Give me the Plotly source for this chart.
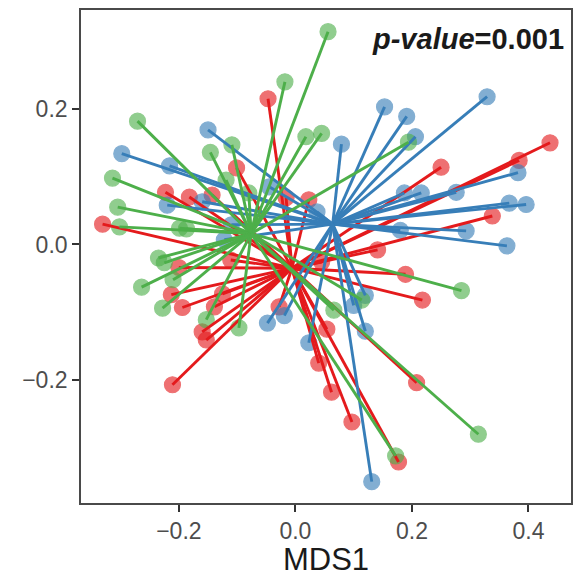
import plotly.graph_objects as go

# Data values (MDS1, MDS2)
red_x = [-0.047, -0.101, -0.223, -0.182, -0.143, -0.331, 0.250, 0.384, 0.437, 0.338, 0.141, 0.189, 0.218,
         -0.016, 0.023, -0.200, -0.111, -0.213, -0.194, -0.125, -0.139, -0.160, -0.153, -0.211,
         -0.028, 0.054, 0.040, 0.062, 0.097, 0.208, 0.177, 0.045]
red_y = [0.215, 0.113, 0.077, 0.070, 0.073, 0.030, 0.114, 0.124, 0.150, 0.042, -0.008, -0.044, -0.082,
         0.069, 0.066, -0.034, -0.023, -0.074, -0.093, -0.073, -0.092, -0.129, -0.141, -0.207,
         -0.092, -0.125, -0.175, -0.218, -0.262, -0.204, -0.321, -0.026]
blue_x = [0.329, 0.153, 0.191, 0.206, 0.079, 0.187, 0.216, 0.276, 0.382, 0.367, 0.396, 0.293, 0.180, 0.363,
          -0.298, -0.150, -0.216, -0.220, -0.160, -0.122, -0.110, -0.045, -0.048, -0.019, 0.023,
          0.120, 0.100, 0.120, 0.131, 0.037]
blue_y = [0.218, 0.203, 0.189, 0.159, 0.148, 0.076, 0.076, 0.077, 0.106, 0.061, 0.059, 0.020, 0.021, -0.002,
          0.134, 0.169, 0.116, 0.058, 0.063, 0.007, 0.029, 0.085, -0.116, -0.105, -0.145,
          -0.075, -0.090, -0.128, -0.350, 0.048]
green_x = [0.056, -0.018, 0.018, 0.045, -0.271, -0.314, -0.305, -0.302, -0.199, -0.187, -0.146, -0.109,
           -0.119, -0.080, 0.194, -0.235, -0.225, -0.264, -0.210, -0.228, -0.153, -0.097, 0.285, 0.066,
           0.114, 0.314, 0.172]
green_y = [0.314, 0.240, 0.159, 0.164, 0.182, 0.098, 0.055, 0.026, 0.024, 0.023, 0.136, 0.147,
           0.095, 0.076, 0.151, -0.020, -0.027, -0.063, -0.052, -0.094, -0.111, -0.123, -0.068, -0.097,
           -0.082, -0.280, -0.312]

centroid_x = {"red": -0.006, "blue": 0.064, "green": -0.076}
centroid_y = {"red": -0.035, "blue": 0.030, "green": 0.016}

groups = [
    ("red", red_x, red_y, "#E41A1C"),
    ("blue", blue_x, blue_y, "#377EB8"),
    ("green", green_x, green_y, "#4DAF4A"),
]

x_ticks = [-0.2, 0.0, 0.2, 0.4]
y_ticks = [-0.2, 0.0, 0.2]
x_ticklabels = ["\u22120.2", "0.0", "0.2", "0.4"]
y_ticklabels = ["\u22120.2", "0.0", "0.2"]

fig = go.Figure()

# points
for name, xs, ys, col in groups:
    fig.add_trace(go.Scatter(
        x=xs, y=ys, mode="markers", name=name, showlegend=False,
        marker=dict(size=16, color=col, opacity=0.62, line=dict(width=1.2, color=col)),
        hoverinfo="skip"))

# spider lines
for name, xs, ys, col in groups:
    lx, ly = [], []
    cx, cy = centroid_x[name], centroid_y[name]
    for x, y in zip(xs, ys):
        lx += [cx, x, None]
        ly += [cy, y, None]
    fig.add_trace(go.Scatter(x=lx, y=ly, mode="lines", showlegend=False,
                             line=dict(color=col, width=2.9), hoverinfo="skip"))

axis_common = dict(showgrid=False, zeroline=False, showline=True, mirror=True,
                   linecolor="#4a4a4a", linewidth=1.6, ticks="outside", ticklen=7,
                   tickwidth=2.2, tickcolor="#333333",
                   tickfont=dict(family="Liberation Sans, Arial", size=23, color="#4d4d4d"))

fig.update_layout(
    width=577, height=577,
    margin=dict(l=81, r=4, t=10, b=74),
    plot_bgcolor="white", paper_bgcolor="white",
    xaxis=dict(range=[-0.368, 0.473], tickvals=x_ticks, ticktext=x_ticklabels,
               title=dict(text="MDS1", font=dict(family="Liberation Sans, Arial", size=31, color="#1a1a1a"),
                          standoff=7),
               **axis_common),
    yaxis=dict(range=[-0.3815, 0.346], tickvals=y_ticks, ticktext=y_ticklabels, **axis_common),
    annotations=[dict(xref="paper", yref="paper", x=0.99, y=0.978, xanchor="right", yanchor="top",
                      showarrow=False,
                      text="<b><i>p-value</i>=0.001</b>",
                      font=dict(family="Liberation Sans, Arial", size=29, color="#1a1a1a"))],
)

fig.write_html("out.html")
